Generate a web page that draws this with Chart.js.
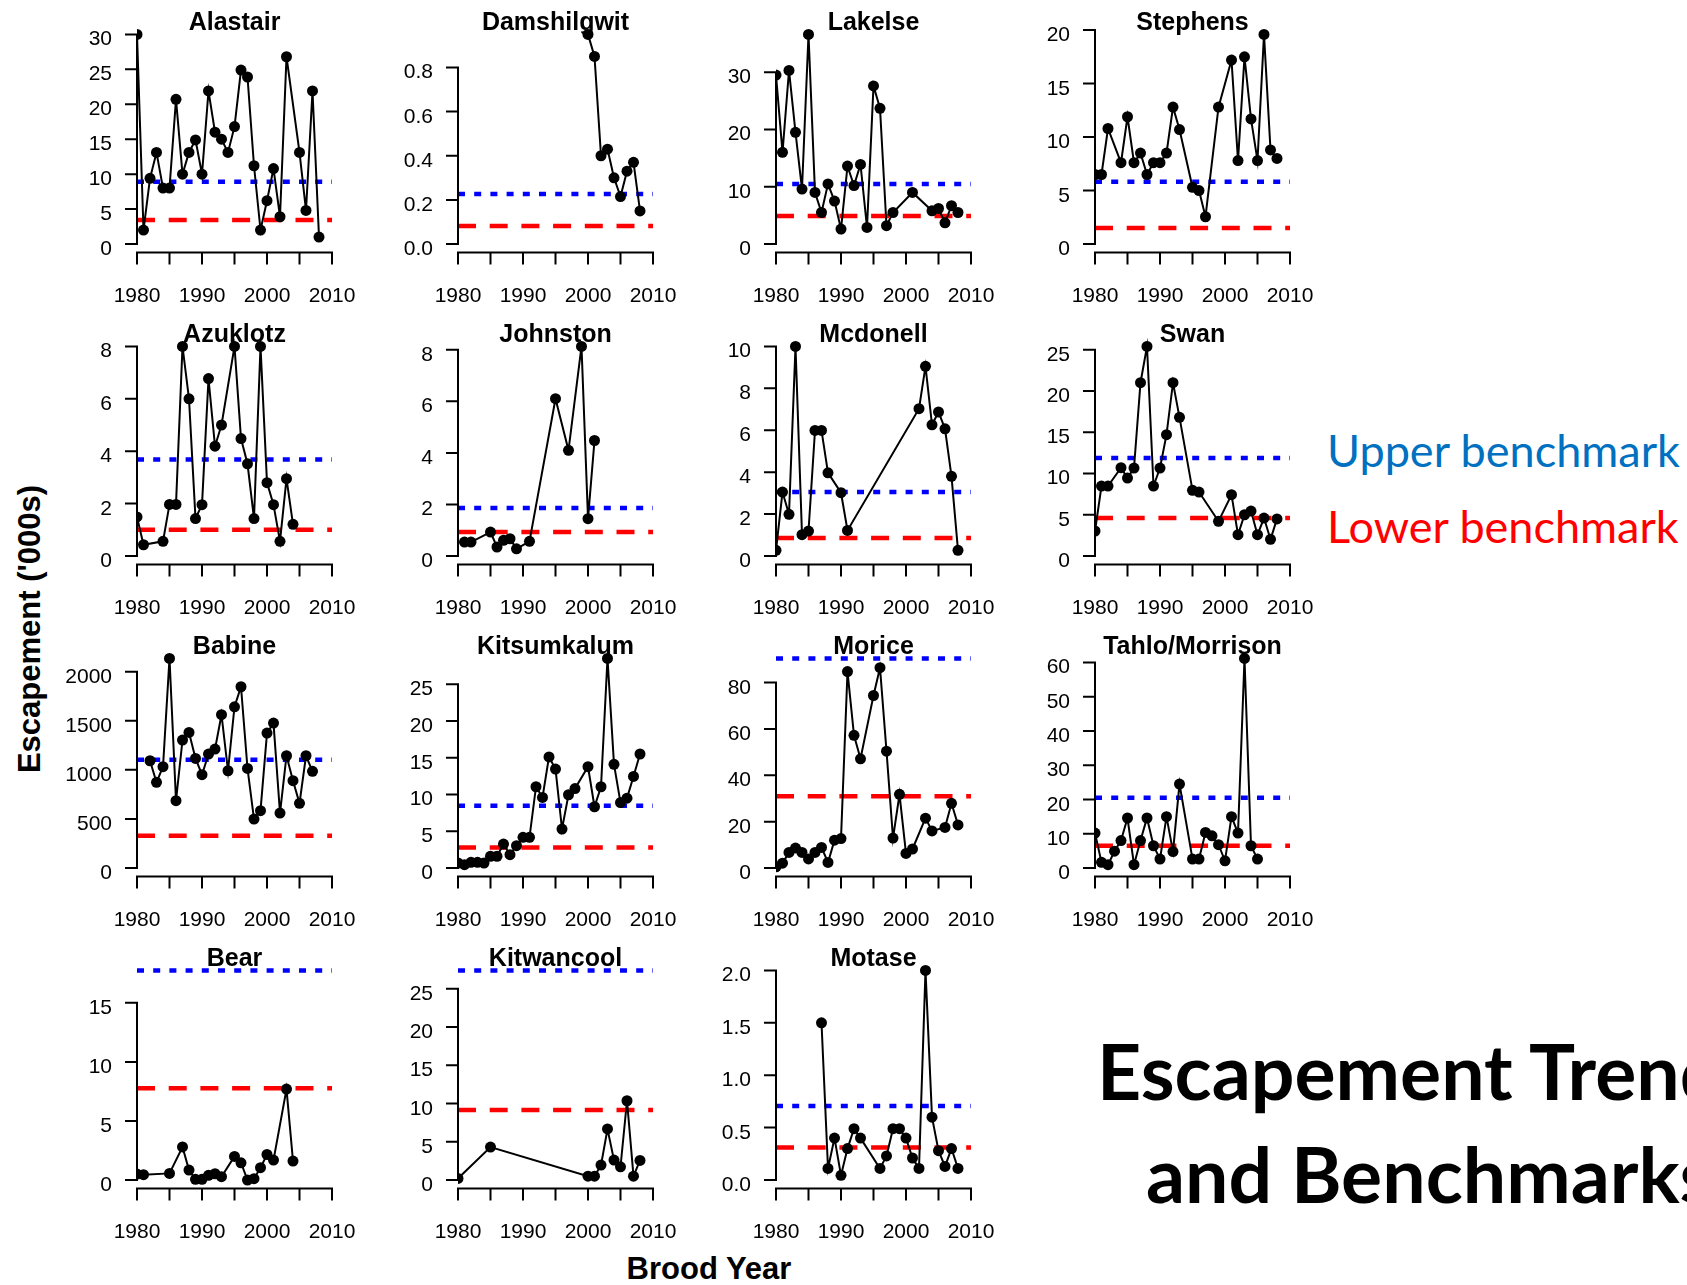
<!DOCTYPE html>
<html>
<head>
<meta charset="utf-8">
<script src="https://cdn.jsdelivr.net/npm/chart.js@4.4.1/dist/chart.umd.min.js"></script>
<style>
  html, body { margin: 0; padding: 0; background: #fff; overflow: hidden; }
  #page { position: relative; width: 1687px; height: 1285px; overflow: hidden; }
  canvas.panel { position: absolute; }
  .txt { position: absolute; white-space: nowrap; line-height: 1; }
  .axis-title { font-family: "Liberation Sans", Arial, sans-serif; font-weight: bold; font-size: 31px; color: #000; }
  .note { font-family: Lato, "Open Sans", sans-serif; }
</style>
</head>
<body>
<div id="page">
  <div class="txt axis-title" style="left:29px; top:629px; transform: translate(-50%,-50%) rotate(-90deg);">Escapement ('000s)</div>
  <div class="txt axis-title" style="left:709px; top:1253px; transform: translateX(-50%);">Brood Year</div>
  <div class="txt note" style="left:1327px; top:428px; font-size:45px; color:#0070c0;">Upper benchmark</div>
  <div class="txt note" style="left:1327px; top:504px; font-size:45px; color:#ff0000;">Lower benchmark</div>
  <div class="txt note" style="left:1097px; top:1032px; font-size:77px; font-weight:bold; color:#000;">Escapement Trends</div>
  <div class="txt note" style="left:1146px; top:1135px; font-size:77px; font-weight:bold; color:#000;">and Benchmarks</div>
</div>
<script>
// stream names in panel order (row by row)
const streamNames = ['Alastair', 'Damshilgwit', 'Lakelse', 'Stephens',
  'Azuklotz', 'Johnston', 'Mcdonell', 'Swan',
  'Babine', 'Kitsumkalum', 'Morice', 'Tahlo/Morrison',
  'Bear', 'Kitwancool', 'Motase']

// benchmarks ('000s), same order as streamNames
const upperBenchmarks = [8.92, 0.227, 10.5, 5.83, 3.68, 1.86, 3.05, 11.87, 1104, 8.47, 90.4, 20.5, 17.75, 27.4, 0.706]
const lowerBenchmarks = [3.43, 0.082, 4.9, 1.5, 1.0, 0.93, 0.86, 4.6, 329, 2.8, 31.0, 6.5, 7.78, 9.14, 0.31]

// escapement by brood year
const alastairYears = [1980,1981,1982,1983,1984,1985,1986,1987,1988,1989,1990,1991,1992,1993,1994,1995,1996,1997,1998,1999,2000,2001,2002,2003,2005,2006,2007,2008]
const alastairEsc = [30.0,2.0,9.4,13.1,8.0,8.0,20.7,10.0,13.1,14.9,10.0,21.9,16.0,15.0,13.1,16.8,24.9,23.9,11.2,2.0,6.2,10.8,3.9,26.8,13.1,4.8,21.9,1.0]

const damshilgwitYears = [2000,2001,2002,2003,2004,2005,2006,2007,2008]
const damshilgwitEsc = [0.95,0.85,0.40,0.43,0.30,0.215,0.33,0.37,0.15]

const lakelseYears = [1980,1981,1982,1983,1984,1985,1986,1987,1988,1989,1990,1991,1992,1993,1994,1995,1996,1997,1998,2001,2004,2005,2006,2007,2008]
const lakelseEsc = [29.5,16.0,30.3,19.5,9.6,36.6,9.0,5.5,10.5,7.5,2.6,13.6,10.2,13.9,2.9,27.6,23.7,3.2,5.5,9.0,5.8,6.2,3.7,6.7,5.5]

const stephensYears = [1980,1981,1982,1984,1985,1986,1987,1988,1989,1990,1991,1992,1993,1995,1996,1997,1999,2001,2002,2003,2004,2005,2006,2007,2008]
const stephensEsc = [6.5,6.5,10.8,7.6,11.9,7.6,8.5,6.5,7.6,7.6,8.5,12.8,10.7,5.3,5.0,2.55,12.8,17.2,7.8,17.5,11.7,7.8,19.6,8.8,8.0]

const azuklotzYears = [1980,1981,1984,1985,1986,1987,1988,1989,1990,1991,1992,1993,1995,1996,1997,1998,1999,2000,2001,2002,2003,2004]
const azuklotzEsc = [1.49,0.43,0.56,1.97,1.97,8.0,6.0,1.43,1.96,6.77,4.19,5.0,8.0,4.48,3.52,1.43,8.0,2.8,1.96,0.56,2.95,1.21]

const johnstonYears = [1981,1982,1985,1986,1987,1988,1989,1991,1995,1997,1999,2000,2001]
const johnstonEsc = [0.54,0.54,0.93,0.35,0.61,0.67,0.28,0.57,6.1,4.1,8.13,1.45,4.48]

const mcdonellYears = [1980,1981,1982,1983,1984,1985,1986,1987,1988,1990,1991,2002,2003,2004,2005,2006,2007,2008]
const mcdonellEsc = [0.27,3.05,1.99,10.0,1.02,1.19,5.99,5.99,3.97,3.02,1.22,7.03,9.05,6.26,6.87,6.07,3.8,0.27]

const swanYears = [1980,1981,1982,1984,1985,1986,1987,1988,1989,1990,1991,1992,1993,1995,1996,1999,2001,2002,2003,2004,2005,2006,2007,2008]
const swanEsc = [3.03,8.48,8.48,10.7,9.45,10.66,21.0,25.4,8.48,10.66,14.7,21.0,16.8,7.96,7.75,4.2,7.43,2.58,5.0,5.45,2.58,4.6,2.02,4.5]

const babineYears = [1982,1983,1984,1985,1986,1987,1988,1989,1990,1991,1992,1993,1994,1995,1996,1997,1998,1999,2000,2001,2002,2003,2004,2005,2006,2007]
const babineEsc = [1093,873,1032,2136,686,1304,1382,1117,951,1161,1212,1562,991,1643,1847,1015,499,584,1375,1477,560,1144,890,659,1144,985]

const kitsumkalumYears = [1980,1981,1982,1983,1984,1985,1986,1987,1988,1989,1990,1991,1992,1993,1994,1995,1996,1997,1998,2000,2001,2002,2003,2004,2005,2006,2007,2008]
const kitsumkalumEsc = [0.68,0.45,0.77,0.77,0.68,1.6,1.6,3.26,1.81,3.03,4.17,4.17,11.05,9.6,15.1,13.45,5.3,9.96,10.8,13.77,8.33,11.05,28.5,14.1,8.9,9.5,12.45,15.5]

const moriceYears = [1980,1981,1982,1983,1984,1985,1986,1987,1988,1989,1990,1991,1992,1993,1995,1996,1997,1998,1999,2000,2001,2003,2004,2006,2007,2008]
const moriceEsc = [0.5,2.1,6.7,8.6,6.7,3.9,6.7,8.9,2.4,12.0,12.7,84.7,57.2,47.1,74.4,86.4,50.4,12.9,31.8,6.3,8.2,21.5,16.0,17.5,27.9,18.6]

const tahloYears = [1980,1981,1982,1983,1984,1985,1986,1987,1988,1989,1990,1991,1992,1993,1995,1996,1997,1998,1999,2000,2001,2002,2003,2004,2005]
const tahloEsc = [10.2,1.65,0.97,4.9,8.0,14.6,0.97,8.0,14.6,6.5,2.6,15.0,4.8,24.5,2.6,2.6,10.4,9.4,6.8,2.1,15.0,10.2,61.2,6.5,2.6]

const bearYears = [1980,1981,1985,1987,1988,1989,1990,1991,1992,1993,1995,1996,1997,1998,1999,2000,2001,2003,2004]
const bearEsc = [0.5,0.45,0.56,2.8,0.84,0.06,0.06,0.4,0.53,0.28,2.0,1.46,0.0,0.11,1.04,2.16,1.69,7.7,1.6]

const kitwancoolYears = [1980,1985,2000,2001,2002,2003,2004,2005,2006,2007,2008]
const kitwancoolEsc = [0.2,4.3,0.5,0.5,1.95,6.67,2.6,1.73,10.36,0.5,2.56]

const motaseYears = [1987,1988,1989,1990,1991,1992,1993,1996,1997,1998,1999,2000,2001,2002,2003,2004,2005,2006,2007,2008]
const motaseEsc = [1.5,0.11,0.40,0.045,0.30,0.49,0.40,0.11,0.23,0.49,0.49,0.40,0.21,0.11,2.0,0.60,0.28,0.13,0.30,0.11]

// y tick labels per panel
const yTickLabels = [
  ['0','5','10','15','20','25','30'],
  ['0.0','0.2','0.4','0.6','0.8'],
  ['0','10','20','30'],
  ['0','5','10','15','20'],
  ['0','2','4','6','8'],
  ['0','2','4','6','8'],
  ['0','2','4','6','8','10'],
  ['0','5','10','15','20','25'],
  ['0','500','1000','1500','2000'],
  ['0','5','10','15','20','25'],
  ['0','20','40','60','80'],
  ['0','10','20','30','40','50','60'],
  ['0','5','10','15'],
  ['0','5','10','15','20','25'],
  ['0.0','0.5','1.0','1.5','2.0']
]

// x axis: tick marks every 5 years, labels every 10
const xTickYears = [1980,1985,1990,1995,2000,2005,2010]
const xLabelYears = [1980,1990,2000,2010]

const allYears = [alastairYears, damshilgwitYears, lakelseYears, stephensYears, azuklotzYears, johnstonYears,
  mcdonellYears, swanYears, babineYears, kitsumkalumYears, moriceYears, tahloYears, bearYears, kitwancoolYears, motaseYears]
const allEsc = [alastairEsc, damshilgwitEsc, lakelseEsc, stephensEsc, azuklotzEsc, johnstonEsc,
  mcdonellEsc, swanEsc, babineEsc, kitsumkalumEsc, moriceEsc, tahloEsc, bearEsc, kitwancoolEsc, motaseEsc]

// page layout
const colLeft = [137, 457.5, 776, 1095]
const rowTop = [0, 312, 624, 936]
const plotW = 195
const padL = 90, padR = 35, padT = 26, padB = 59.6
const canvasW = padL + plotW + padR
const canvasH = 312

const tickFont = '21px "Liberation Sans", Arial, sans-serif'
const titleFont = 'bold 25px "Liberation Sans", Arial, sans-serif'

// R style axes: lines only run between the end ticks
const rAxes = {
  id: 'rAxes',
  afterDraw(chart) {
    const {ctx, chartArea} = chart
    const xs = chart.scales.x, ys = chart.scales.y
    const o = chart.options.plugins.rAxes
    ctx.save()
    ctx.strokeStyle = '#000'
    ctx.fillStyle = '#000'
    ctx.lineWidth = 2
    ctx.lineCap = 'butt'

    // x axis
    const by = chartArea.bottom
    ctx.beginPath()
    ctx.moveTo(xs.getPixelForValue(xTickYears[0]) - 1, by)
    ctx.lineTo(xs.getPixelForValue(xTickYears[xTickYears.length - 1]) + 1, by)
    xTickYears.forEach(v => {
      const px = xs.getPixelForValue(v)
      ctx.moveTo(px, by)
      ctx.lineTo(px, by + 12)
    })
    ctx.stroke()
    ctx.font = tickFont
    ctx.textAlign = 'center'
    ctx.textBaseline = 'alphabetic'
    xLabelYears.forEach(v => ctx.fillText(String(v), xs.getPixelForValue(v), by + 50))

    // y axis
    const lx = chartArea.left
    const vals = o.ticks.map(Number)
    ctx.beginPath()
    ctx.moveTo(lx, ys.getPixelForValue(vals[0]) + 1)
    ctx.lineTo(lx, ys.getPixelForValue(vals[vals.length - 1]) - 1)
    vals.forEach(v => {
      const py = ys.getPixelForValue(v)
      ctx.moveTo(lx, py)
      ctx.lineTo(lx - 12, py)
    })
    ctx.stroke()
    ctx.textAlign = 'right'
    o.ticks.forEach((t, k) => ctx.fillText(t, lx - 25, ys.getPixelForValue(vals[k]) + 11))

    // title
    ctx.font = titleFont
    ctx.textAlign = 'center'
    ctx.fillText(o.title, (chartArea.left + chartArea.right) / 2, 29.5)
    ctx.restore()
  }
}

const page = document.getElementById('page')

streamNames.forEach((name, i) => {
  const row = Math.floor(i / 4), col = i % 4
  const years = allYears[i], esc = allEsc[i]
  const up = upperBenchmarks[i], low = lowerBenchmarks[i]
  const top = Math.max(...esc, up, low)

  const cv = document.createElement('canvas')
  cv.className = 'panel'
  cv.width = canvasW
  cv.height = canvasH
  cv.style.left = (colLeft[col] - padL) + 'px'
  cv.style.top = rowTop[row] + 'px'
  cv.style.width = canvasW + 'px'
  cv.style.height = canvasH + 'px'
  page.appendChild(cv)

  const points = years.map((y, k) => ({x: y, y: esc[k]}))

  new Chart(cv, {
    type: 'line',
    data: {
      datasets: [
        {
          data: points,
          borderColor: '#000',
          backgroundColor: '#000',
          borderWidth: 2,
          pointRadius: 5.5,
          pointBorderWidth: 0,
          pointBackgroundColor: '#000',
          tension: 0
        },
        {
          data: [{x: 1980, y: up}, {x: 2010, y: up}],
          borderColor: '#0000ff',
          borderWidth: 4.5,
          borderDash: [7, 9.2],
          pointRadius: 0
        },
        {
          data: [{x: 1980, y: low}, {x: 2010, y: low}],
          borderColor: '#ff0000',
          borderWidth: 4.5,
          borderDash: [18, 13.7],
          pointRadius: 0
        }
      ]
    },
    options: {
      responsive: false,
      animation: false,
      devicePixelRatio: 1,
      events: [],
      layout: {padding: {left: padL, right: padR, top: padT, bottom: padB}},
      plugins: {
        legend: {display: false},
        tooltip: {enabled: false},
        rAxes: {title: name, ticks: yTickLabels[i]}
      },
      scales: {
        x: {type: 'linear', min: 1980, max: 2010, display: false},
        y: {type: 'linear', min: -0.04 * top, max: 1.04 * top, display: false}
      }
    },
    plugins: [rAxes]
  })
})
</script>
</body>
</html>
